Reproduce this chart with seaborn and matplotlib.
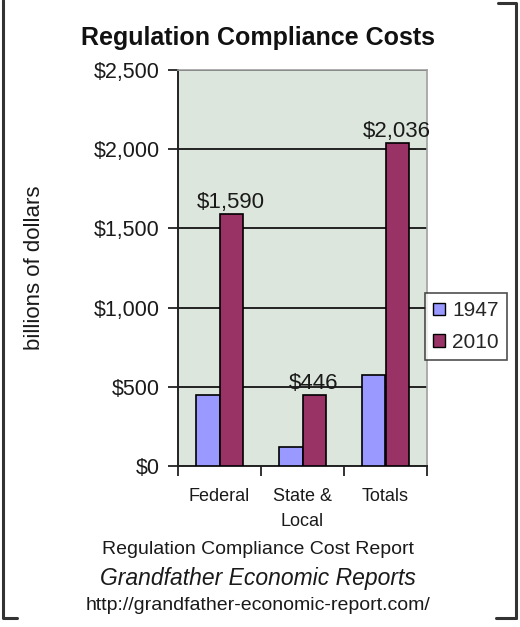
import matplotlib
matplotlib.use("Agg")
import matplotlib.pyplot as plt
import seaborn as sns
import pandas as pd
from matplotlib.lines import Line2D
from matplotlib.patches import Patch

categories = ["Federal", "State &\nLocal", "Totals"]
years = ["1947", "2010"]
values_1947 = [450, 120, 575]
values_2010 = [1590, 446, 2036]
labels_2010 = ["$1,590", "$446", "$2,036"]
yticks = [0, 500, 1000, 1500, 2000, 2500]
ytick_labels = ["$0", "$500", "$1,000", "$1,500", "$2,000", "$2,500"]

df = pd.DataFrame({
    "category": categories * 2,
    "year": [years[0]] * 3 + [years[1]] * 3,
    "value": values_1947 + values_2010,
})

sns.set_theme(style="white")
plt.rcParams["font.family"] = ["Liberation Sans", "DejaVu Sans"]

fig = plt.figure(figsize=(5.2, 6.27), dpi=100)
ax = fig.add_axes([178/520, 1-466/627, (427-178)/520, (466-70)/627])
ax.set_facecolor("#dce6dc")

palette = {"1947": "#9999ff", "2010": "#993366"}
sns.barplot(data=df, x="category", y="value", hue="year", order=categories,
            hue_order=years, palette=palette, width=0.555, saturation=1,
            edgecolor="black", linewidth=1.2, ax=ax, legend=False, zorder=3)

ax.set_ylim(0, 2500)
ax.set_xlim(-0.5, 2.5)
ax.set_yticks(yticks)
ax.set_yticklabels(ytick_labels, fontsize=15.5, color="#1a1a1a")
ax.yaxis.grid(True, color="#222222", linewidth=1.4, zorder=0)
ax.set_axisbelow(True)
ax.tick_params(axis="y", direction="out", length=7, width=1.3, color="#222222", left=True, pad=6)
ax.set_xticks([0, 1, 2])
ax.set_xticklabels(categories, fontsize=13, color="#1a1a1a", linespacing=1.6)
ax.tick_params(axis="x", which="major", length=0, pad=16)
ax.set_xticks([-0.5, 0.5, 1.5, 2.5], minor=True)
ax.tick_params(axis="x", which="minor", direction="out", length=7, width=1.3, color="#222222", bottom=True)
ax.set_xlabel("")
ax.set_ylabel("billions of dollars", fontsize=16, color="#1a1a1a")
ax.yaxis.set_label_coords((45-178)/249, 0.5)

for s in ["left", "bottom"]:
    ax.spines[s].set_color("#222222")
    ax.spines[s].set_linewidth(1.4)
for s in ["top", "right"]:
    ax.spines[s].set_color("#a0a0a0")
    ax.spines[s].set_linewidth(1.2)

# data labels on 2010 bars
bars_2010 = ax.containers[1]
ax.bar_label(bars_2010, labels=labels_2010, fontsize=16, color="#1a1a1a", padding=1)

# legend
handles = [Patch(facecolor=palette[y], edgecolor="black", linewidth=1.0) for y in years]
leg = fig.legend(handles, years, loc="upper left", bbox_to_anchor=(425/520, 1-293/627),
                 frameon=True, fontsize=15, handlelength=0.55, handleheight=0.55,
                 handletextpad=0.35, borderpad=0.4, labelspacing=0.6, fancybox=False,
                 borderaxespad=0)
leg.get_frame().set_edgecolor("#222222")
leg.get_frame().set_linewidth(1.2)

# titles and footer
fig.text(258/520, 1-38/627, "Regulation Compliance Costs", ha="center", va="center",
         fontsize=18, fontweight="bold", color="#111111")
fig.text(258/520, 1-550/627, "Regulation Compliance Cost Report", ha="center", va="center",
         fontsize=14, color="#1a1a1a")
fig.text(258/520, 1-578/627, "Grandfather Economic Reports", ha="center", va="center",
         fontsize=16.5, style="italic", color="#1a1a1a")
fig.text(258/520, 1-605/627, "http://grandfather-economic-report.com/", ha="center", va="center",
         fontsize=14, color="#1a1a1a")

# bracket border
W, H = 520, 627
def fl(xs, ys):
    fig.add_artist(Line2D([x/W for x in xs], [1-y/H for y in ys], color="#333333", linewidth=2.2))
fl([3, 3, 17], [0, 618, 618])
fl([498, 516, 516], [3, 3, 618])
fl([496, 516], [618, 618])

fig.savefig("out.png", dpi=100)
